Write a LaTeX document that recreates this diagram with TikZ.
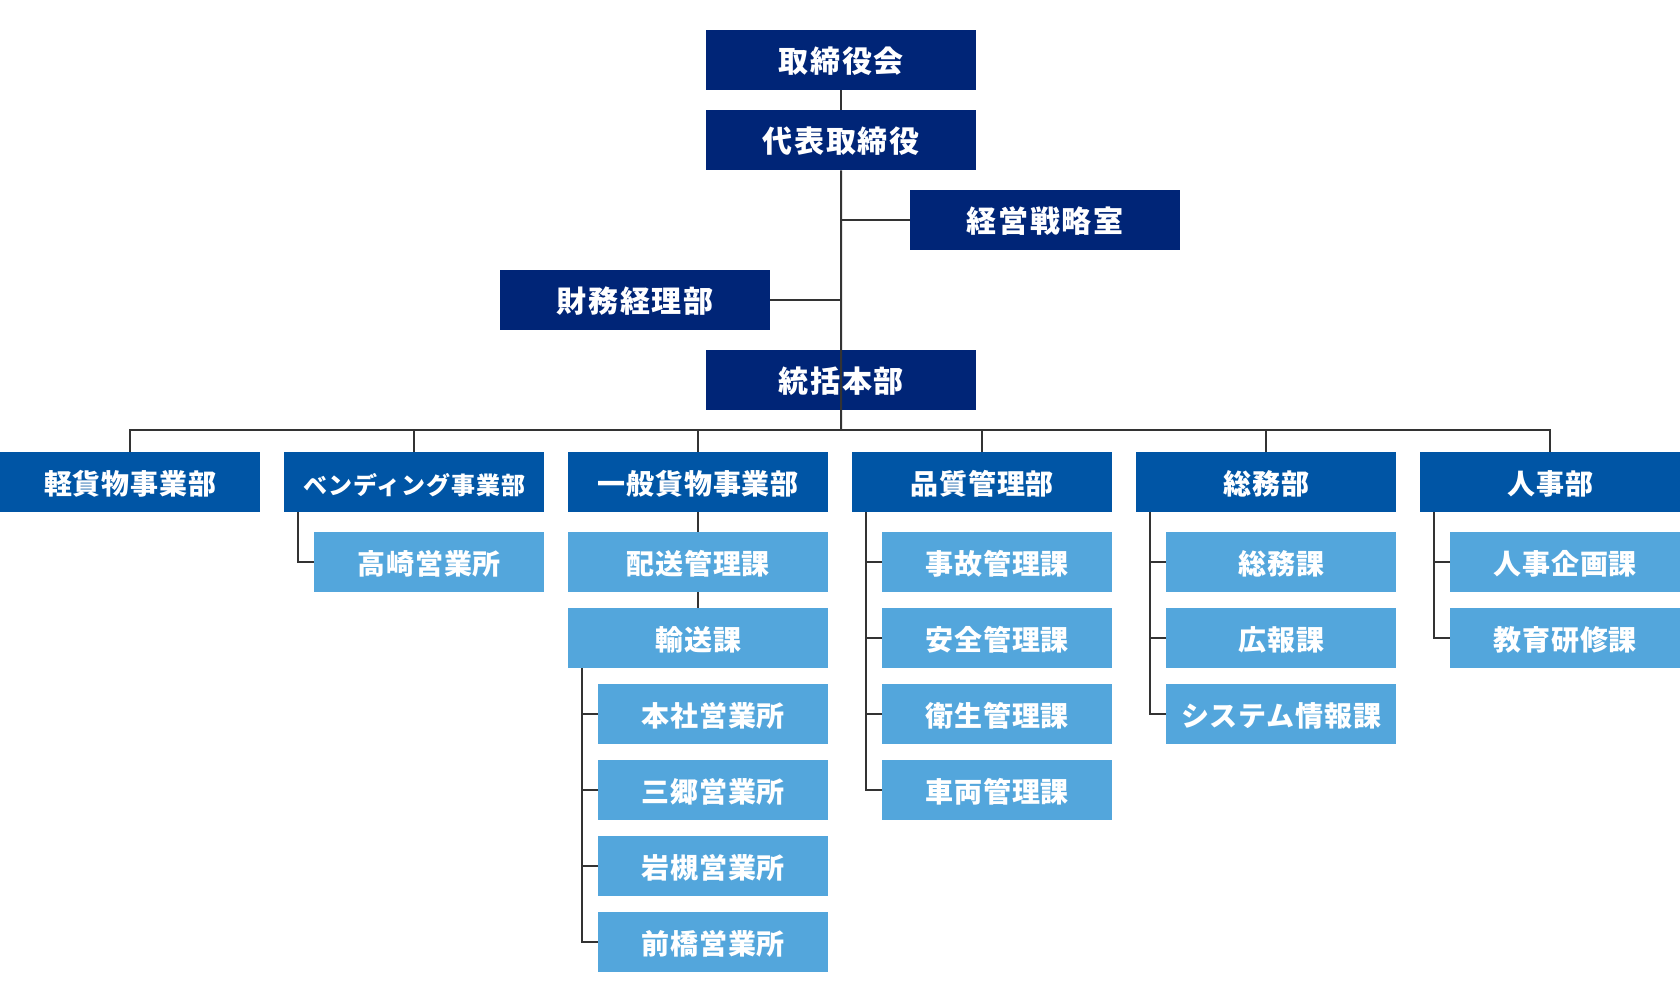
\documentclass[tikz,border=0pt]{standalone}
\usepackage{fontspec}
\setmainfont{Noto Sans CJK JP}
\definecolor{navy}{HTML}{002577}
\definecolor{deptblue}{HTML}{0055A5}
\definecolor{lightblue}{HTML}{53A6DC}
\definecolor{linegray}{HTML}{333333}
\begin{document}
\begin{tikzpicture}[x=1pt,y=-1pt,
  box/.style={anchor=north west, inner sep=0pt, text=white, minimum height=60pt, align=center,
    text height=27pt, text depth=3pt},
  topbox/.style={box, fill=navy, minimum width=270pt,
    font=\bfseries\fontsize{30pt}{30pt}\selectfont\addfontfeature{LetterSpace=6}},
  deptbox/.style={box, fill=deptblue, minimum width=260pt,
    font=\bfseries\fontsize{28pt}{28pt}\selectfont\addfontfeature{LetterSpace=3}},
  widebox/.style={box, fill=lightblue, minimum width=260pt,
    font=\bfseries\fontsize{28pt}{28pt}\selectfont\addfontfeature{LetterSpace=3}},
  subbox/.style={box, fill=lightblue, minimum width=230pt,
    font=\bfseries\fontsize{28pt}{28pt}\selectfont\addfontfeature{LetterSpace=3}},
  conn/.style={draw=linegray, line width=2pt}
]
\useasboundingbox (0,0) rectangle (1680,1002);

% top level
\node[topbox] (t1) at (706,30) {取締役会};
\node[topbox] (t2) at (706,110) {代表取締役};
\node[topbox] (t3) at (910,190) {経営戦略室};
\node[topbox] (t4) at (500,270) {財務経理部};
\node[topbox] (t5) at (706,350) {統括本部};

% departments
\node[deptbox] (d1) at (0,452) {軽貨物事業部};
\node[deptbox, font=\bfseries\fontsize{24pt}{24pt}\selectfont\addfontfeature{LetterSpace=4}] (d2) at (284,452) {ベンディング事業部};
\node[deptbox] (d3) at (568,452) {一般貨物事業部};
\node[deptbox] (d4) at (852,452) {品質管理部};
\node[deptbox] (d5) at (1136,452) {総務部};
\node[deptbox] (d6) at (1420,452) {人事部};

% sub units
\node[subbox] (takasaki) at (314,532) {高崎営業所};

\node[widebox] (haiso) at (568,532) {配送管理課};
\node[widebox] (yuso) at (568,608) {輸送課};
\node[subbox] (honsha) at (598,684) {本社営業所};
\node[subbox] (misato) at (598,760) {三郷営業所};
\node[subbox] (iwatsuki) at (598,836) {岩槻営業所};
\node[subbox] (maebashi) at (598,912) {前橋営業所};

\node[subbox] (jiko) at (882,532) {事故管理課};
\node[subbox] (anzen) at (882,608) {安全管理課};
\node[subbox] (eisei) at (882,684) {衛生管理課};
\node[subbox] (sharyo) at (882,760) {車両管理課};

\node[subbox] (somuka) at (1166,532) {総務課};
\node[subbox] (koho) at (1166,608) {広報課};
\node[subbox] (system) at (1166,684) {システム情報課};

\node[subbox] (jinjika) at (1450,532) {人事企画課};
\node[subbox] (kyoiku) at (1450,608) {教育研修課};

% connectors top
\coordinate (bus) at (841,430);
\draw[conn] (t1.south) -- (t2.north);
\draw[conn] (t3.west) -- (t3.west -| t2.south);
\draw[conn] (t4.east) -- (t4.east -| t2.south);
\draw[conn] (t2.south) -- (bus);

% bus to departments
\draw[conn] (d1.north) -- (d1.north |- bus) -- (d6.north |- bus) -- (d6.north);
\foreach \d in {d2,d3,d4,d5} \draw[conn] (\d.north) -- (\d.north |- bus);

% vending
\draw[conn] ([xshift=14pt]d2.south west) |- (takasaki.west);

% general freight
\draw[conn] (d3.south) -- (haiso.north);
\draw[conn] (haiso.south) -- (yuso.north);
\coordinate (ybr) at ([xshift=14pt]yuso.south west);
\draw[conn] (ybr) |- (maebashi.west);
\foreach \n in {honsha,misato,iwatsuki} \draw[conn] (\n.west) -- (\n.west -| ybr);

% quality
\coordinate (qbr) at ([xshift=14pt]d4.south west);
\draw[conn] (qbr) |- (sharyo.west);
\foreach \n in {jiko,anzen,eisei} \draw[conn] (\n.west) -- (\n.west -| qbr);

% general affairs
\coordinate (sbr) at ([xshift=14pt]d5.south west);
\draw[conn] (sbr) |- (system.west);
\foreach \n in {somuka,koho} \draw[conn] (\n.west) -- (\n.west -| sbr);

% HR
\coordinate (hbr) at ([xshift=14pt]d6.south west);
\draw[conn] (hbr) |- (kyoiku.west);
\draw[conn] (jinjika.west) -- (jinjika.west -| hbr);
\end{tikzpicture}
\end{document}
